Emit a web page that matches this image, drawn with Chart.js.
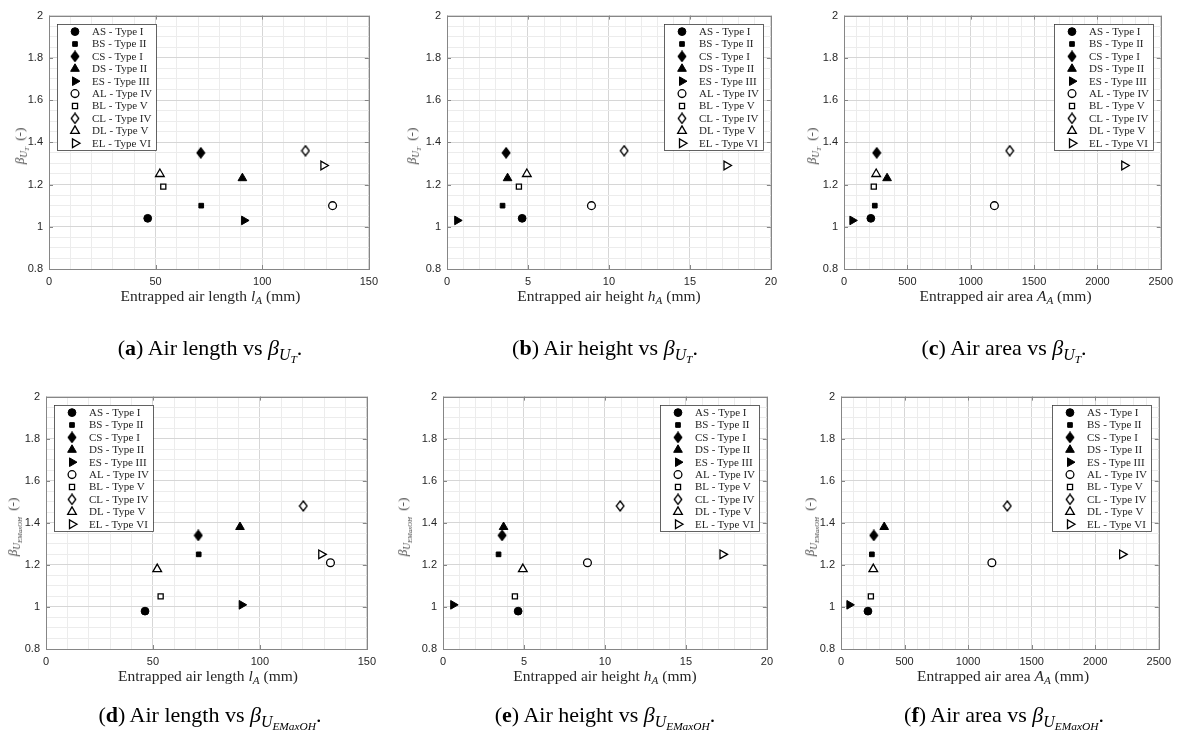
<!DOCTYPE html>
<html>
<head>
<meta charset="utf-8">
<script src="https://cdn.jsdelivr.net/npm/chart.js@4.4.1/dist/chart.umd.min.js"></script>
<style>
  body { margin: 0; background: #fff; }
  #fig { position: relative; width: 1184px; height: 733px; overflow: hidden; font-family: "Liberation Serif", serif; color: #262626; }
  canvas { position: absolute; }
  .xt, .yt, .cap { position: absolute; white-space: nowrap; }
  .xt { font-size: 15.5px; transform: translate(-50%, -50%); }
  .yt { font-size: 13px; color: #444; transform: translate(-50%, -50%) rotate(-90deg); }
  .cap { font-size: 22px; color: #000; transform: translate(-50%, -50%); }
  sub { font-size: 0.72em; vertical-align: -0.3em; line-height: 0; }
</style>
</head>
<body>
<div id="fig"></div>
<script>
// values, one entry per specimen
const seriesLabels = ['AS - Type I', 'BS - Type II', 'CS - Type I', 'DS - Type II', 'ES - Type III',
                      'AL - Type IV', 'BL - Type V', 'CL - Type IV', 'DL - Type V', 'EL - Type VI'];
const airLength = [46.3, 71.4, 71.2, 90.7, 91.5, 133.0, 53.6, 120.3, 52.0, 128.7];
const airHeight = [4.64, 3.43, 3.65, 3.74, 0.63, 8.92, 4.44, 10.94, 4.93, 17.26];
const airArea   = [212, 243, 258, 340, 66, 1187, 235, 1308, 254, 2212];
const betaUT    = [1.04, 1.10, 1.35, 1.23, 1.03, 1.10, 1.19, 1.36, 1.25, 1.29];
const betaUEM   = [0.98, 1.25, 1.34, 1.38, 1.01, 1.21, 1.05, 1.48, 1.18, 1.25];

// tick labels
const lengthTicks = [0, 50, 100, 150];
const heightTicks = [0, 5, 10, 15, 20];
const areaTicks   = [0, 500, 1000, 1500, 2000, 2500];
const betaTicks   = [0.8, 1, 1.2, 1.4, 1.6, 1.8, 2];

// marker styles (MATLAB o s d ^ >)
const markerShape  = ['circle', 'rect', 'diamond', 'triangle', 'right', 'circle', 'rect', 'diamond', 'triangle', 'right'];
const markerFilled = [true, true, true, true, true, false, false, false, false, false];

function diamondCanvas(filled) {
  const c = document.createElement('canvas');
  c.width = 10; c.height = 12;
  const g = c.getContext('2d');
  g.beginPath();
  g.moveTo(5, 1); g.lineTo(8.8, 6); g.lineTo(5, 11); g.lineTo(1.2, 6); g.closePath();
  g.fillStyle = filled ? '#000' : '#fff';
  g.fill();
  g.lineWidth = 1.3; g.strokeStyle = '#000';
  g.stroke();
  return c;
}

function markerStyle(i) {
  const filled = markerFilled[i];
  const s = {
    backgroundColor: filled ? '#000' : '#fff',
    borderColor: '#000',
    borderWidth: filled ? 1 : 1.3,
    pointRotation: 0
  };
  switch (markerShape[i]) {
    case 'circle': s.pointStyle = 'circle'; s.pointRadius = 3.9; break;
    case 'rect': s.pointStyle = 'rect'; s.pointRadius = filled ? 3.3 : 3.6; break;
    case 'diamond': s.pointStyle = diamondCanvas(filled); s.pointRadius = 5; break;
    case 'triangle': s.pointStyle = 'triangle'; s.pointRadius = 5; break;
    case 'right': s.pointStyle = 'triangle'; s.pointRadius = 5; s.pointRotation = 90; break;
  }
  return s;
}

function buildTicks(major, step) {
  const lo = major[0], hi = major[major.length - 1];
  const out = [];
  const n = Math.round((hi - lo) / step);
  for (let k = 0; k <= n; k++) {
    const v = Math.round((lo + k * step) * 1e6) / 1e6;
    out.push({ value: v, major: major.some(m => Math.abs(m - v) < 1e-9) });
  }
  return out;
}

const PAD_L = 45, PAD_T = 12, PAD_R = 12, PAD_B = 30;

function axisOpts(major, step, isX) {
  return {
    type: 'linear',
    min: major[0],
    max: major[major.length - 1],
    afterBuildTicks: s => { s.ticks = buildTicks(major, step); },
    afterFit: s => { if (isX) s.height = PAD_B; else s.width = PAD_L; },
    grid: {
      color: c => (c.tick && c.tick.major) ? '#d6d6d6' : '#ececec',
      lineWidth: 1,
      drawTicks: false
    },
    border: { display: false },
    ticks: {
      autoSkip: false,
      maxRotation: 0,
      padding: 6,
      color: '#262626',
      font: { family: 'Liberation Sans', size: 11 },
      callback: (v, i, t) => t[i].major ? String(Number(v.toFixed(3))) : ''
    }
  };
}

// axes box with inward ticks, like MATLAB "box on"
const axesBox = {
  id: 'axesBox',
  beforeDatasetsDraw(chart) {
    const { ctx, chartArea: a } = chart;
    ctx.save();
    ctx.strokeStyle = '#868686';
    ctx.lineWidth = 1;
    ctx.beginPath();
    const xs = chart.scales.x, ys = chart.scales.y;
    xs.ticks.filter(t => t.major).forEach(t => {
      const p = Math.round(xs.getPixelForValue(t.value)) + 0.5;
      ctx.moveTo(p, a.bottom); ctx.lineTo(p, a.bottom - 4);
      ctx.moveTo(p, a.top); ctx.lineTo(p, a.top + 4);
    });
    ys.ticks.filter(t => t.major).forEach(t => {
      const p = Math.round(ys.getPixelForValue(t.value)) + 0.5;
      ctx.moveTo(a.left, p); ctx.lineTo(a.left + 4, p);
      ctx.moveTo(a.right, p); ctx.lineTo(a.right - 4, p);
    });
    ctx.stroke();
    ctx.strokeRect(Math.round(a.left) + 0.5, Math.round(a.top) + 0.5,
                   Math.round(a.right - a.left), Math.round(a.bottom - a.top));
    ctx.restore();
  }
};

// boxed legend inside the axes
const boxLegend = {
  id: 'boxLegend',
  afterDatasetsDraw(chart, args, opts) {
    const { ctx, chartArea: a } = chart;
    const sets = chart.data.datasets;
    ctx.save();
    ctx.font = '11px "Liberation Serif"';
    let tw = 0;
    sets.forEach(d => { tw = Math.max(tw, ctx.measureText(d.label).width); });
    const rowH = 12.4;
    const w = Math.round(35 + tw + 4), h = Math.round(7.4 + rowH * (sets.length - 1) + 6.5);
    const x0 = Math.round(opts.side === 'left' ? a.left + 8 : a.right - 8 - w);
    const y0 = Math.round(a.top + 8);
    ctx.fillStyle = '#fff';
    ctx.fillRect(x0, y0, w, h);
    ctx.strokeStyle = '#3c3c3c';
    ctx.lineWidth = 0.8;
    ctx.strokeRect(x0 + 0.5, y0 + 0.5, w, h);
    sets.forEach((d, i) => {
      const cy = y0 + 7.6 + i * rowH;
      ctx.fillStyle = d.backgroundColor;
      ctx.strokeStyle = d.borderColor;
      ctx.lineWidth = d.borderWidth;
      Chart.helpers.drawPoint(ctx, {
        pointStyle: d.pointStyle, radius: d.pointRadius,
        rotation: d.pointRotation, borderWidth: d.borderWidth
      }, x0 + 18, cy);
      ctx.fillStyle = '#262626';
      ctx.textBaseline = 'middle';
      ctx.textAlign = 'left';
      ctx.fillText(d.label, x0 + 35, cy + 0.5);
    });
    ctx.restore();
  }
};

const yTitleUT  = '<i>β</i><sub><i>U</i><sub><i>T</i></sub></sub>&nbsp; (-)';
const yTitleUEM = '<i>β</i><sub><i>U</i><sub><i>EMaxOH</i></sub></sub>&nbsp; (-)';
const capUT  = '<i>β</i><sub><i>U</i><sub><i>T</i></sub></sub>.';
const capUEM = '<i>β</i><sub><i>U</i><sub><i>EMaxOH</i></sub></sub>.';

const panels = [
  { xv: airLength, yv: betaUT,  xt: lengthTicks, xs: 10,  rect: [49, 15, 372, 269],   legend: 'left',  yOff: 29,
    xTitle: 'Entrapped air length <i>l</i><sub><i>A</i></sub> (mm)', yTitle: yTitleUT,
    cap: '(<b>a</b>) Air length vs ' + capUT, capX: 210, capY: 348 },
  { xv: airHeight, yv: betaUT,  xt: heightTicks, xs: 1,   rect: [447, 15, 771, 269],  legend: 'right', yOff: 35,
    xTitle: 'Entrapped air height <i>h</i><sub><i>A</i></sub> (mm)', yTitle: yTitleUT,
    cap: '(<b>b</b>) Air height vs ' + capUT, capX: 605, capY: 348 },
  { xv: airArea,   yv: betaUT,  xt: areaTicks,   xs: 100, rect: [844, 15, 1167, 269], legend: 'right', yOff: 32,
    xTitle: 'Entrapped air area <i>A</i><sub><i>A</i></sub> (mm)', yTitle: yTitleUT,
    cap: '(<b>c</b>) Air area vs ' + capUT, capX: 1004, capY: 348 },
  { xv: airLength, yv: betaUEM, xt: lengthTicks, xs: 10,  rect: [46, 396, 370, 649],  legend: 'left',  yOff: 33,
    xTitle: 'Entrapped air length <i>l</i><sub><i>A</i></sub> (mm)', yTitle: yTitleUEM,
    cap: '(<b>d</b>) Air length vs ' + capUEM, capX: 210, capY: 715 },
  { xv: airHeight, yv: betaUEM, xt: heightTicks, xs: 1,   rect: [443, 396, 767, 649], legend: 'right', yOff: 40,
    xTitle: 'Entrapped air height <i>h</i><sub><i>A</i></sub> (mm)', yTitle: yTitleUEM,
    cap: '(<b>e</b>) Air height vs ' + capUEM, capX: 605, capY: 715 },
  { xv: airArea,   yv: betaUEM, xt: areaTicks,   xs: 100, rect: [841, 396, 1165, 649], legend: 'right', yOff: 31,
    xTitle: 'Entrapped air area <i>A</i><sub><i>A</i></sub> (mm)', yTitle: yTitleUEM,
    cap: '(<b>f</b>) Air area vs ' + capUEM, capX: 1004, capY: 715 }
];

const fig = document.getElementById('fig');

function addText(cls, html, x, y) {
  const el = document.createElement('div');
  el.className = cls;
  el.innerHTML = html;
  el.style.left = x + 'px';
  el.style.top = y + 'px';
  fig.appendChild(el);
}

panels.forEach(p => {
  const [l, t, r, b] = p.rect;
  const canvas = document.createElement('canvas');
  canvas.width = r - l + PAD_L + PAD_R;
  canvas.height = b - t + PAD_T + PAD_B;
  canvas.style.left = (l - PAD_L) + 'px';
  canvas.style.top = (t - PAD_T) + 'px';
  fig.appendChild(canvas);

  new Chart(canvas.getContext('2d'), {
    type: 'scatter',
    data: {
      datasets: seriesLabels.map((lab, i) => Object.assign({
        label: lab,
        data: [{ x: p.xv[i], y: p.yv[i] }],
        showLine: false
      }, markerStyle(i)))
    },
    options: {
      responsive: false,
      animation: false,
      events: [],
      layout: { padding: { left: 0, top: PAD_T, right: PAD_R, bottom: 0 } },
      scales: {
        x: axisOpts(p.xt, p.xs, true),
        y: axisOpts(betaTicks, 0.05, false)
      },
      plugins: {
        legend: { display: false },
        tooltip: { enabled: false },
        boxLegend: { side: p.legend }
      }
    },
    plugins: [axesBox, boxLegend]
  });

  addText('xt', p.xTitle, (l + r) / 2, b + 27);
  addText('yt', p.yTitle, l - p.yOff, (t + b) / 2 + 4);
  addText('cap', p.cap, p.capX, p.capY);
});
</script>
</body>
</html>
